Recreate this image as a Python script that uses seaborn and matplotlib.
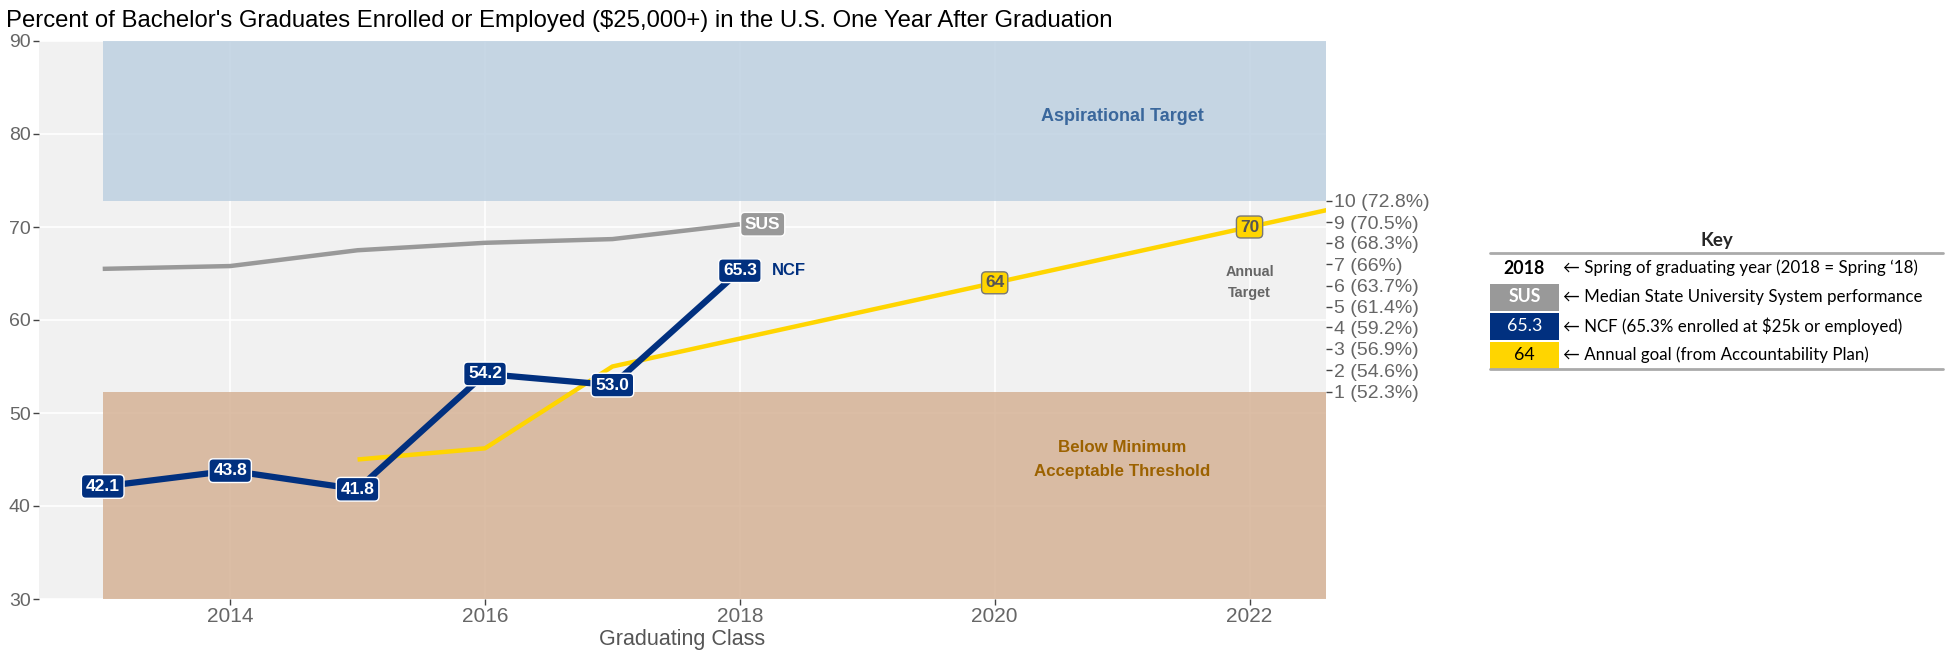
import numpy as np
import pandas as pd
import matplotlib.pyplot as plt
import seaborn as sns
from matplotlib.lines import Line2D
from matplotlib.patches import Rectangle

## data
years = [2013, 2014, 2015, 2016, 2017, 2018]
sus_vals = [65.5, 65.8, 67.5, 68.3, 68.7, 70.3]
ncf_vals = [42.1, 43.8, 41.8, 54.2, 53.0, 65.3]
goal_years = [2015, 2016, 2017, 2018, 2019, 2020, 2021, 2022, 2023]
goal_vals = [45.0, 46.2, 55.0, 58.0, 61.0, 64.0, 67.0, 70.0, 73.0]
goal_label_years = [2020, 2022]
goal_label_vals = [64, 70]
scale_vals = [52.3, 54.6, 56.9, 59.2, 61.4, 63.7, 66.0, 68.3, 70.5, 72.8]
scale_labels = ['1 (52.3%)', '2 (54.6%)', '3 (56.9%)', '4 (59.2%)', '5 (61.4%)',
                '6 (63.7%)', '7 (66%)', '8 (68.3%)', '9 (70.5%)', '10 (72.8%)']
key_swatches = ['2018', 'SUS', '65.3', '64']
key_texts = ['\u2190 Spring of graduating year (2018 = Spring \u201818)',
             '\u2190 Median State University System performance',
             '\u2190 NCF (65.3% enrolled at $25k or employed)',
             '\u2190 Annual goal (from Accountability Plan)']

NAVY = '#01307f'
GOLD = '#ffd500'
GREY = '#999999'
BG = '#f1f1f1'

sns.set_style('darkgrid', {'axes.facecolor': BG, 'grid.color': 'white'})
plt.rcParams['font.family'] = ['Liberation Sans', 'DejaVu Sans']

fig = plt.figure(figsize=(19.53, 6.53), dpi=100)
ax = fig.add_axes([39 / 1953, 1 - 599 / 653, (1326 - 39) / 1953, (599 - 41) / 653])

# target bands
ax.fill_between([2013, 2022.6], 72.8, 90, color='#bacee0', alpha=0.8, lw=0, zorder=1)
ax.fill_between([2013, 2022.6], 30, 52.3, color='#d3ae90', alpha=0.8, lw=0, zorder=1)

df_sus = pd.DataFrame({'year': years, 'pct': sus_vals})
df_ncf = pd.DataFrame({'year': years, 'pct': ncf_vals})
df_goal = pd.DataFrame({'year': goal_years, 'pct': goal_vals})

sns.lineplot(data=df_sus, x='year', y='pct', color=GREY, lw=3.2, ax=ax, zorder=3,
             solid_capstyle='butt')
sns.lineplot(data=df_goal, x='year', y='pct', color=GOLD, lw=3.2, ax=ax, zorder=3,
             solid_capstyle='butt')
sns.lineplot(data=df_ncf, x='year', y='pct', color=NAVY, lw=4.5, ax=ax, zorder=4,
             solid_capstyle='butt')

# point labels
for x, v in zip(years, ncf_vals):
    ax.text(x, v, f'{v:.1f}', ha='center', va='center', color='white', fontsize=12.5,
            fontweight='bold', zorder=6,
            bbox=dict(boxstyle='round,pad=0.25,rounding_size=0.25', fc=NAVY, ec='white', lw=1))
ax.text(years[-1] + 0.25, ncf_vals[-1], 'NCF', ha='left', va='center', color=NAVY,
        fontsize=12, fontweight='bold', zorder=6)
ax.text(years[-1] + 0.04, sus_vals[-1], 'SUS', ha='left', va='center', color='white',
        fontsize=12.5, fontweight='bold', zorder=6,
        bbox=dict(boxstyle='round,pad=0.25,rounding_size=0.25', fc=GREY, ec='white', lw=1))
for x, v in zip(goal_label_years, goal_label_vals):
    ax.text(x, v, str(v), ha='center', va='center', color='#555555', fontsize=12.5,
            fontweight='bold', zorder=6,
            bbox=dict(boxstyle='round,pad=0.2,rounding_size=0.25', fc=GOLD, ec='#777777', lw=1))

ax.text(2022, 64, 'Annual\nTarget', ha='center', va='center', color='#666666',
        fontsize=10.4, fontweight='bold', linespacing=1.65, zorder=6)
ax.text(2021, 81.9, 'Aspirational Target', ha='center', va='center', color='#3a679c',
        fontsize=13, fontweight='bold', zorder=6)
ax.text(2021, 45, 'Below Minimum\nAcceptable Threshold', ha='center', va='center',
        color='#9c6200', fontsize=12.2, fontweight='bold', linespacing=1.75, zorder=6)

ax.set_xlim(2012.5, 2022.6)
ax.set_ylim(30, 90)
ax.set_xticks([2014, 2016, 2018, 2020, 2022])
ax.set_yticks([30, 40, 50, 60, 70, 80, 90])
ax.set_xlabel('Graduating Class', fontsize=15.5, color='#555555', labelpad=2)
ax.set_ylabel('')
ax.tick_params(axis='x', labelsize=15)
ax.tick_params(axis='y', labelsize=14)
ax.tick_params(axis='both', length=4, width=1, color='#444444',
               labelcolor='#666666', pad=2, bottom=True, left=True)
for s in ax.spines.values():
    s.set_visible(False)
ax.grid(True, color='white', lw=1.2, zorder=0)
ax.set_axisbelow(True)

# right-hand scale
ax2 = ax.twinx()
ax2.set_ylim(30, 90)
ax2.set_yticks(scale_vals)
ax2.set_yticklabels(scale_labels)
ax2.tick_params(axis='y', length=4, width=1, color='#444444', labelsize=14,
                labelcolor='#666666', pad=2, right=True)
ax2.grid(False)
for s in ax2.spines.values():
    s.set_visible(False)

fig.text(6 / 1953, 1 - 21 / 653,
         "Percent of Bachelor's Graduates Enrolled or Employed ($25,000+) in the U.S. One Year After Graduation",
         ha='left', va='center', fontsize=17.2, color='black')

# key table
def fx(px):
    return px / 1953

def fy(py):
    return 1 - py / 653

kfont = ['Lato', 'DejaVu Sans']
x0, x1, xs = 1490, 1943, 1559
fig.text(fx((x0 + x1) / 2), fy(240), 'Key', ha='center', va='center', fontsize=13.5,
         fontweight='bold', family=kfont)
fig.add_artist(Line2D([fx(x0), fx(x1)], [fy(253), fy(253)], color='#aaaaaa', lw=2))
fig.add_artist(Line2D([fx(x0), fx(x1)], [fy(369), fy(369)], color='#aaaaaa', lw=2))
row_y = [268, 297, 326, 355]
cell_fc = ['white', GREY, NAVY, GOLD]
cell_tc = ['black', 'white', 'white', 'black']
cell_w = ['bold', 'bold', 'normal', 'normal']
for ry, sw, txt, fc, tc, fw in zip(row_y, key_swatches, key_texts, cell_fc, cell_tc, cell_w):
    fig.add_artist(Rectangle((fx(x0), fy(ry + 13.5)), fx(xs) - fx(x0), fy(ry - 13.5) - fy(ry + 13.5),
                             fc=fc, ec='none'))
    fig.text(fx((x0 + xs) / 2), fy(ry), sw, ha='center', va='center', color=tc,
             fontsize=12.8, fontweight=fw, family=kfont)
    fig.text(fx(xs + 4), fy(ry), txt, ha='left', va='center', color='black',
             fontsize=12.2, family=kfont)

fig.savefig('out.png', dpi=100)
